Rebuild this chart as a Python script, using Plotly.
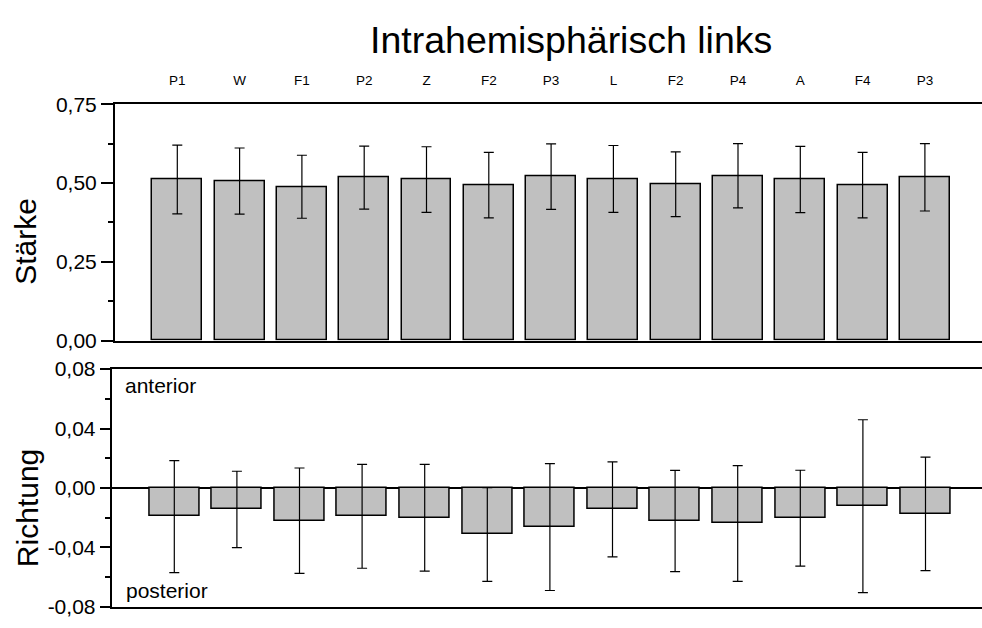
import plotly.graph_objects as go

# Electrode pairs along the x axis (positions 1..13)
categories = ["P1", "W", "F1", "P2", "Z", "F2", "P3", "L", "F2", "P4", "A", "F4", "P3"]

# Upper panel: strength (Stärke) with standard error
strength = [0.511, 0.506, 0.488, 0.517, 0.511, 0.493, 0.520, 0.513, 0.496, 0.523, 0.511, 0.493, 0.518]
strength_err = [0.109, 0.105, 0.100, 0.100, 0.104, 0.104, 0.104, 0.106, 0.103, 0.102, 0.105, 0.104, 0.107]

# Lower panel: direction (Richtung), negative = posterior
direction = [-0.0193, -0.0145, -0.0221, -0.0191, -0.0201, -0.0314, -0.0264,
             -0.0145, -0.0223, -0.0240, -0.0204, -0.0123, -0.0175]
direction_err = [0.0377, 0.0257, 0.0355, 0.0350, 0.0360, 0.0316, 0.0427,
                 0.0320, 0.0341, 0.0390, 0.0323, 0.0582, 0.0382]

strength_ticks = [0.0, 0.25, 0.5, 0.75]
strength_ticktext = ["0,00", "0,25", "0,50", "0,75"]
strength_minor = [0.125, 0.375, 0.625]
direction_ticks = [-0.08, -0.04, 0.0, 0.04, 0.08]
direction_ticktext = ["-0,08", "-0,04", "0,00", "0,04", "0,08"]
direction_minor = [-0.06, -0.02, 0.02, 0.06]

FONT = "Liberation Sans, Arial, Helvetica, sans-serif"
W, H = 982, 628
BAR_FILL = "#c0c0c0"

xs = list(range(1, len(categories) + 1))

fig = go.Figure()

fig.add_trace(go.Bar(
    x=xs, y=strength, width=0.8,
    marker=dict(color=BAR_FILL, line=dict(color="black", width=1.5)),
    error_y=dict(type="data", array=strength_err, color="black", thickness=1.2, width=5),
    xaxis="x", yaxis="y", showlegend=False,
))

fig.add_trace(go.Bar(
    x=xs, y=direction, width=0.8,
    marker=dict(color=BAR_FILL, line=dict(color="black", width=1.5)),
    error_y=dict(type="data", array=direction_err, color="black", thickness=1.2, width=5),
    xaxis="x2", yaxis="y2", showlegend=False,
))

top_y0 = 1 - 341 / H
top_y1 = 1 - 95.7 / H
bot_y0 = 1 - 617.3 / H
bot_y1 = 1 - 370.7 / H

fig.update_layout(
    width=W, height=H,
    margin=dict(l=0, r=0, t=0, b=0),
    paper_bgcolor="white", plot_bgcolor="white",
    font=dict(family=FONT, color="black"),
    bargap=0,
    xaxis=dict(
        domain=[115 / W, 1], range=[0, (W - 115) / 62.3],
        side="top", anchor="y",
        tickmode="array", tickvals=xs, ticktext=categories,
        tickfont=dict(size=13.5), ticks="", ticklabelstandoff=12,
        showline=True, linecolor="black", linewidth=2, mirror=True,
        showgrid=False, zeroline=False, fixedrange=True,
    ),
    yaxis=dict(
        domain=[top_y0, top_y1], range=[0, 0.75], anchor="x",
        tickmode="array", tickvals=strength_ticks, ticktext=strength_ticktext,
        ticks="outside", ticklen=12, tickwidth=2, tickcolor="black",
        minor=dict(tickmode="array", tickvals=strength_minor, ticks="outside",
                   ticklen=5, tickwidth=2, tickcolor="black", showgrid=False),
        tickfont=dict(size=21),
        showline=True, linecolor="black", linewidth=2,
        showgrid=False, zeroline=False,
    ),
    xaxis2=dict(
        domain=[111.7 / W, 1], range=[0, (W - 111.7) / 62.6],
        anchor="y2", showticklabels=False, ticks="",
        showline=True, linecolor="black", linewidth=2, mirror=True,
        showgrid=False, zeroline=False,
    ),
    yaxis2=dict(
        domain=[bot_y0, bot_y1], range=[-0.08, 0.08], anchor="x2",
        tickmode="array", tickvals=direction_ticks, ticktext=direction_ticktext,
        ticks="outside", ticklen=10, tickwidth=2, tickcolor="black",
        minor=dict(tickmode="array", tickvals=direction_minor, ticks="outside",
                   ticklen=5, tickwidth=2, tickcolor="black", showgrid=False),
        tickfont=dict(size=21),
        showline=True, linecolor="black", linewidth=2,
        showgrid=False, zeroline=True, zerolinecolor="black", zerolinewidth=1.5,
    ),
    annotations=[
        dict(text="Intrahemisphärisch links", x=571 / W, y=1 - 29 / H,
             xref="paper", yref="paper", xanchor="center", yanchor="middle",
             showarrow=False, font=dict(size=37.5)),
        dict(text="Stärke", x=26 / W, y=1 - 238.5 / H, textangle=-90,
             xref="paper", yref="paper", xanchor="center", yanchor="middle",
             showarrow=False, font=dict(size=30)),
        dict(text="Richtung", x=27 / W, y=1 - 515 / H, textangle=-90,
             xref="paper", yref="paper", xanchor="center", yanchor="middle",
             showarrow=False, font=dict(size=30)),
        dict(text="anterior", x=123 / W, y=1 - 388 / H,
             xref="paper", yref="paper", xanchor="left", yanchor="middle",
             showarrow=False, font=dict(size=21)),
        dict(text="posterior", x=124 / W, y=1 - 601 / H,
             xref="paper", yref="paper", xanchor="left", yanchor="middle",
             showarrow=False, font=dict(size=21)),
    ],
)

fig.write_html("out.html")
